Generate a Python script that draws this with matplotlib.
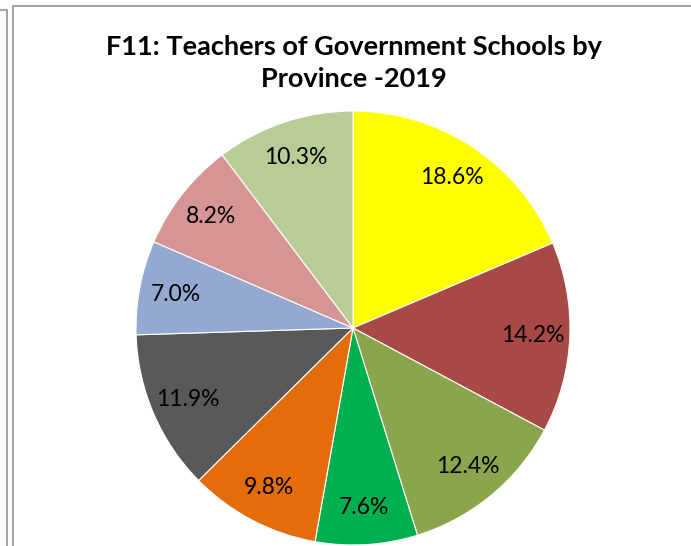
import matplotlib
matplotlib.use("Agg")
import matplotlib.pyplot as plt
from matplotlib.lines import Line2D

# shares by province, clockwise from 12 o'clock
shares = [18.6, 14.2, 12.4, 7.6, 9.8, 11.9, 7.0, 8.2, 10.3]
colors = ["#FFFF00", "#A84947", "#8AA54C", "#00B050", "#E46C0A",
          "#595959", "#94A9D2", "#D69594", "#B9CC95"]
title = "F11: Teachers of Government Schools by\nProvince -2019"

W, H = 691, 546
fig = plt.figure(figsize=(W / 100, H / 100), dpi=100)

# pie placed by pixel centre/radius
cx, cy, r = 353, 328, 217
ax = fig.add_axes([(cx - r) / W, (H - cy - r) / H, 2 * r / W, 2 * r / H])
wedges, texts, autotexts = ax.pie(
    shares, colors=colors, startangle=90, counterclock=False,
    autopct="%.1f%%", pctdistance=0.83, radius=1,
    wedgeprops=dict(edgecolor="white", linewidth=0.8),
    textprops=dict(fontsize=16.5, family="Lato", color="black"))
ax.set_xlim(-1, 1)
ax.set_ylim(-1, 1)
ax.set_aspect("equal")
ax.axis("off")

fig.text(354 / W, 1 - 63 / H, title, ha="center", va="center",
         fontsize=19.5, fontweight="bold", family="Lato", linespacing=1.4)

# frame lines from the source screenshot
gray = "#a6a6a6"
fig.add_artist(Line2D([0, 7 / W, 7 / W], [1 - 10 / H, 1 - 10 / H, 0],
                      transform=fig.transFigure, color=gray, lw=1.5))
fig.add_artist(Line2D([13 / W, 13 / W, 1], [0, 1 - 6 / H, 1 - 6 / H],
                      transform=fig.transFigure, color=gray, lw=1.5))

fig.savefig("out.png", dpi=100)
